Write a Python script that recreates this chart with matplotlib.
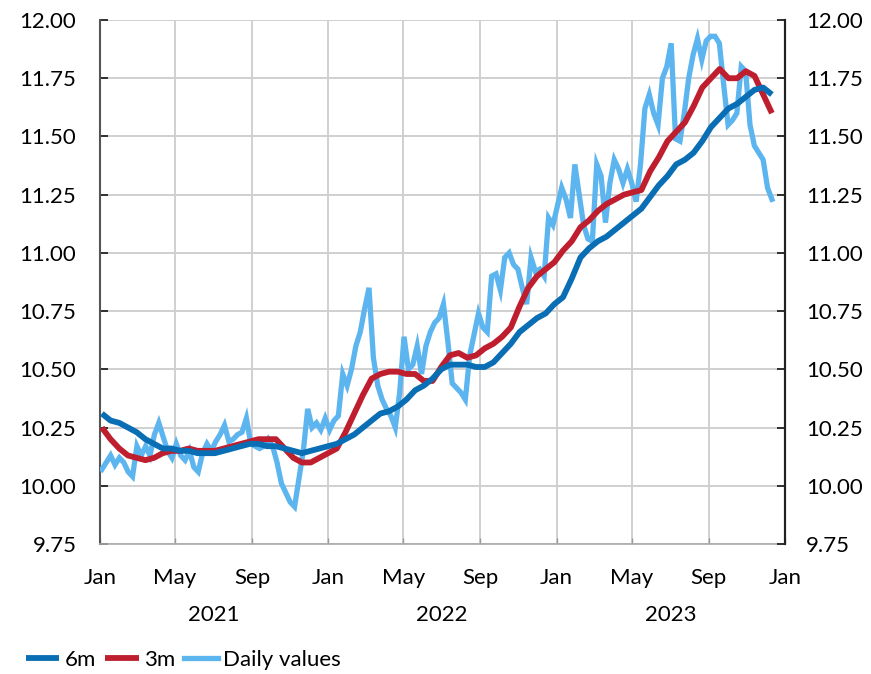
import matplotlib
matplotlib.use("Agg")
import matplotlib.pyplot as plt
import matplotlib.transforms as mtransforms
import pandas as pd

# ---------------- data ----------------
daily_values = [
    10.07, 10.10, 10.13, 10.09, 10.12, 10.10, 10.06, 10.04, 10.17, 10.13,
    10.17, 10.13, 10.22, 10.27, 10.21, 10.15, 10.12, 10.18, 10.13, 10.11,
    10.15, 10.08, 10.06, 10.14, 10.18, 10.15, 10.19, 10.22, 10.26, 10.19,
    10.20, 10.22, 10.23, 10.29, 10.18, 10.17, 10.16, 10.17, 10.20, 10.17,
    10.10, 10.01, 9.97, 9.93, 9.91, 10.03, 10.15, 10.33, 10.25, 10.27,
    10.24, 10.29, 10.24, 10.28, 10.30, 10.48, 10.43, 10.50, 10.60, 10.66,
    10.76, 10.85, 10.55, 10.43, 10.37, 10.33, 10.30, 10.25, 10.40, 10.64,
    10.50, 10.52, 10.60, 10.48, 10.60, 10.66, 10.70, 10.72, 10.78, 10.62,
    10.44, 10.42, 10.40, 10.37, 10.56, 10.65, 10.74, 10.68, 10.66, 10.90,
    10.91, 10.84, 10.98, 11.00, 10.95, 10.93, 10.85, 10.78, 10.98, 10.92,
    10.93, 10.90, 11.15, 11.12, 11.20, 11.28, 11.23, 11.15, 11.38, 11.25,
    11.12, 11.06, 11.05, 11.38, 11.33, 11.13, 11.30, 11.40, 11.36, 11.30,
    11.36, 11.30, 11.22, 11.38, 11.62, 11.68, 11.60, 11.55, 11.75, 11.80,
    11.90, 11.49, 11.48, 11.60, 11.75, 11.85, 11.92, 11.83, 11.91, 11.93,
    11.93, 11.90, 11.72, 11.55, 11.57, 11.60, 11.80, 11.78, 11.55, 11.46,
    11.43, 11.40, 11.28, 11.23,
]

avg_3m = [
    10.25, 10.20, 10.16, 10.13, 10.12, 10.11, 10.12, 10.14, 10.15, 10.15,
    10.16, 10.15, 10.15, 10.15, 10.16, 10.17, 10.18, 10.19, 10.20, 10.20,
    10.20, 10.16, 10.12, 10.10, 10.10, 10.12, 10.14, 10.16, 10.23, 10.31,
    10.39, 10.46, 10.48, 10.49, 10.49, 10.48, 10.48, 10.45, 10.45, 10.51,
    10.56, 10.57, 10.55, 10.56, 10.59, 10.61, 10.64, 10.68, 10.77, 10.85,
    10.90, 10.93, 10.96, 11.01, 11.05, 11.11, 11.14, 11.18, 11.21, 11.23,
    11.25, 11.26, 11.27, 11.35, 11.41, 11.48, 11.52, 11.56, 11.63, 11.71,
    11.75, 11.79, 11.75, 11.75, 11.78, 11.76, 11.68, 11.60,
]

avg_6m = [
    10.31, 10.28, 10.27, 10.25, 10.23, 10.20, 10.18, 10.16, 10.16, 10.15,
    10.15, 10.14, 10.14, 10.14, 10.15, 10.16, 10.17, 10.18, 10.18, 10.17,
    10.17, 10.16, 10.15, 10.14, 10.15, 10.16, 10.17, 10.18, 10.20, 10.22,
    10.25, 10.28, 10.31, 10.32, 10.34, 10.37, 10.41, 10.43, 10.46, 10.50,
    10.52, 10.52, 10.52, 10.51, 10.51, 10.53, 10.57, 10.61, 10.66, 10.69,
    10.72, 10.74, 10.78, 10.81, 10.89, 10.98, 11.02, 11.05, 11.07, 11.10,
    11.13, 11.16, 11.19, 11.24, 11.29, 11.33, 11.38, 11.40, 11.43, 11.48,
    11.54, 11.58, 11.62, 11.64, 11.67, 11.70, 11.71, 11.68,
]

start_date = "2021-01-04"
end_date = "2023-12-11"
daily_dates = pd.date_range(start_date, end_date, periods=len(daily_values))
avg_dates = pd.date_range(start_date, end_date, periods=len(avg_3m))

y_ticks = [9.75, 10.00, 10.25, 10.50, 10.75, 11.00, 11.25, 11.50, 11.75, 12.00]
month_ticks = ["2021-01-01", "2021-05-01", "2021-09-01", "2022-01-01", "2022-05-01",
               "2022-09-01", "2023-01-01", "2023-05-01", "2023-09-01", "2024-01-01"]
month_labels = ["Jan", "May", "Sep", "Jan", "May", "Sep", "Jan", "May", "Sep", "Jan"]
years = ["2021", "2022", "2023"]
year_centers = ["2021-07-02", "2022-07-02", "2023-07-02"]

# ---------------- style ----------------
plt.rcParams['font.family'] = ['Lato', 'DejaVu Sans']
FS = 16
c_daily = "#5DB5F0"
c_3m = "#BE1E2D"
c_6m = "#0A6EB4"
grid_c = "#D0D0D0"

fig = plt.figure(figsize=(8.71, 6.74), dpi=100)
ax = fig.add_axes([0.1148, 0.1929, 0.7865, 0.7774])

l_daily, = ax.plot(daily_dates, daily_values, color=c_daily, lw=3.8, zorder=3,
                   solid_joinstyle="miter")
l_3m, = ax.plot(avg_dates, avg_3m, color=c_3m, lw=4.2, zorder=4, solid_capstyle="butt")
l_6m, = ax.plot(avg_dates, avg_6m, color=c_6m, lw=4.2, zorder=5, solid_capstyle="butt")

xt = pd.to_datetime(month_ticks)
ax.set_xlim(xt[0], xt[-1])
ax.set_ylim(9.75, 12.0)
ax.set_yticks(y_ticks)
ax.set_yticklabels([f"{v:.2f}" for v in y_ticks])
ax.set_xticks(xt)
ax.set_xticklabels(month_labels)

for v in y_ticks:
    ax.axhline(v, color=grid_c, lw=1.4, zorder=1)
for d in xt[1:-1]:
    ax.axvline(d, color=grid_c, lw=1.4, zorder=1)

ax.tick_params(axis="y", direction="in", length=6, width=1.3, color="#222222",
               labelsize=FS, pad=17)
ax.tick_params(axis="x", direction="in", length=4, width=1.0, color="#999999",
               labelsize=FS, pad=17)

ax.spines["top"].set_visible(False)
ax.spines["left"].set_color("#555555")
ax.spines["left"].set_linewidth(1.5)
ax.spines["right"].set_color("#222222")
ax.spines["right"].set_linewidth(1.5)
ax.spines["bottom"].set_color("#AAAAAA")
ax.spines["bottom"].set_linewidth(1.2)

ax2 = ax.twinx()
ax2.set_ylim(ax.get_ylim())
ax2.set_yticks(y_ticks)
ax2.set_yticklabels([f"{v:.2f}" for v in y_ticks])
ax2.tick_params(axis="y", direction="in", length=6, width=1.3, color="#222222",
                labelsize=FS, pad=15)
for s in ["top", "left", "bottom"]:
    ax2.spines[s].set_visible(False)
ax2.spines["right"].set_color("#222222")
ax2.spines["right"].set_linewidth(1.5)

trans = mtransforms.blended_transform_factory(ax.transData, fig.transFigure)
for yr, c in zip(years, pd.to_datetime(year_centers)):
    ax.text(c, 1 - 615 / 674, yr, transform=trans, ha="center", va="center",
            fontsize=FS)

fig.legend([l_6m, l_3m, l_daily], ["6m", "3m", "Daily values"],
           loc="center left", bbox_to_anchor=(0.03, 1 - 660 / 674), ncol=3,
           frameon=False, fontsize=FS, handlelength=1.5, handletextpad=0.25,
           columnspacing=0.4, borderaxespad=0, borderpad=0)

fig.savefig("out.png", dpi=100)
